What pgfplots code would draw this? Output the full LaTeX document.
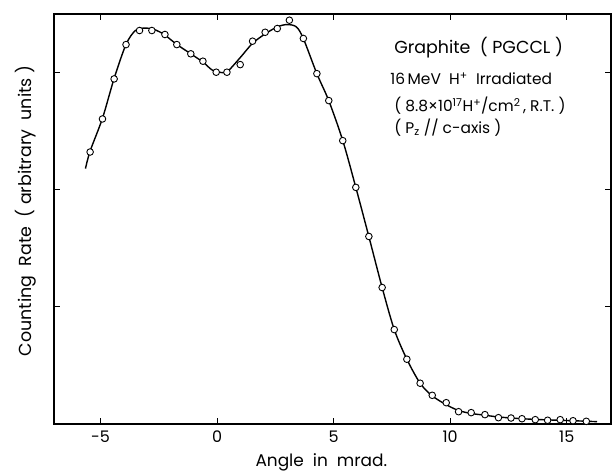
\documentclass[border=0pt]{standalone}
\usepackage{fontspec}
\setmainfont{Poppins}
\usepackage{pgfplots}
\pgfplotsset{compat=1.18}
\begin{document}
\begin{tikzpicture}
\begin{axis}[
  name=ax,
  scale only axis,
  width=557bp, height=410bp,
  xmin=-7, xmax=16.9, ymin=0, ymax=3.5,
  xtick={-5,0,5,10,15},
  ytick={1,2,3},
  yticklabels={},
  tick align=inside,
  major tick length=6bp,
  axis line style={line width=1.1bp},
  tick style={line width=1bp, black},
  /pgf/number format/assume math mode=true,
  xticklabel style={font=\fontsize{16}{16}\selectfont, yshift=-3bp},
  xlabel={Angle\ \ in\ \ mrad.},
  ylabel={Counting\ \ Rate\ \ (\ arbitrary\ \ units\ )},
  xlabel style={font=\fontsize{17}{17}\selectfont, at={(axis description cs:0.48,-0.093)}, anchor=center},
  ylabel style={font=\fontsize{17.5}{17.5}\selectfont, at={(axis description cs:-0.05,0.52)}, anchor=center, rotate=0},
  clip=false,
]
% fitted curve
\addplot[black, line width=1.4bp, smooth, tension=0.5] coordinates {
  (-5.65,2.18) (-5.45,2.33) (-4.92,2.61) (-4.42,2.95) (-3.91,3.24) (-3.5,3.36)
  (-3.05,3.38) (-2.6,3.36) (-2.24,3.32) (-1.73,3.24) (-1.13,3.16) (-0.61,3.09)
  (-0.2,3.02) (0.2,3.00) (0.45,3.01) (1.0,3.13) (1.52,3.25) (2.06,3.33)
  (2.58,3.39) (3.0,3.41) (3.4,3.39) (3.70,3.29) (4.28,2.99) (4.79,2.76)
  (5.39,2.42) (5.95,2.02) (6.51,1.60) (7.08,1.165) (7.60,0.806) (8.14,0.553)
  (8.71,0.348) (9.23,0.24) (9.83,0.165) (10.36,0.115) (10.9,0.09) (11.49,0.075)
  (12.07,0.06) (13.08,0.045) (14.18,0.035) (15.27,0.028) (16.3,0.02)
};
% measured points
\addplot[only marks, mark=*, mark size=3.3bp, mark options={draw=black, fill=white, line width=0.9bp}] coordinates {
  (-5.45,2.322) (-4.92,2.604) (-4.42,2.946) (-3.91,3.239) (-3.33,3.359) (-2.80,3.359)
  (-2.24,3.325) (-1.73,3.239) (-1.13,3.160) (-0.61,3.097) (-0.04,3.003) (0.42,3.003)
  (0.99,3.068) (1.52,3.268) (2.06,3.344) (2.58,3.376) (3.10,3.447) (3.70,3.291)
  (4.28,2.991) (4.79,2.761) (5.39,2.419) (5.95,2.020) (6.51,1.601) (7.08,1.165)
  (7.60,0.806) (8.14,0.553) (8.71,0.348) (9.23,0.245) (9.83,0.182) (10.36,0.105)
  (10.90,0.097) (11.49,0.080) (12.07,0.054) (12.61,0.051) (13.08,0.045) (13.65,0.037)
  (14.18,0.032) (14.72,0.037) (15.27,0.028) (15.84,0.023)
};
\node[anchor=base west, font=\fontsize{17.5}{17.5}\selectfont] at (axis cs:7.45,3.16) {Graphite\ \ (\ PGCCL\ )};
\node[anchor=base west, font=\fontsize{15.5}{15.5}\selectfont] at (axis cs:7.28,2.90) {16\,MeV\ \ H\textsuperscript{+}\ \ Irradiated};
\node[anchor=base west, font=\fontsize{15.5}{15.5}\selectfont] at (axis cs:7.45,2.67) {(\ 8.8×10\textsuperscript{17}H\textsuperscript{+}/cm\textsuperscript{2}\,,\ R.T.\ )};
\node[anchor=base west, font=\fontsize{15.5}{15.5}\selectfont] at (axis cs:7.45,2.48) {(\ P\textsubscript{z}\ //\ c-axis\ )};
\end{axis}
\pgfresetboundingbox
\path ([shift={(-54bp,-51bp)}]ax.south west) rectangle ([shift={(4bp,14bp)}]ax.north east);
\end{tikzpicture}
\end{document}
